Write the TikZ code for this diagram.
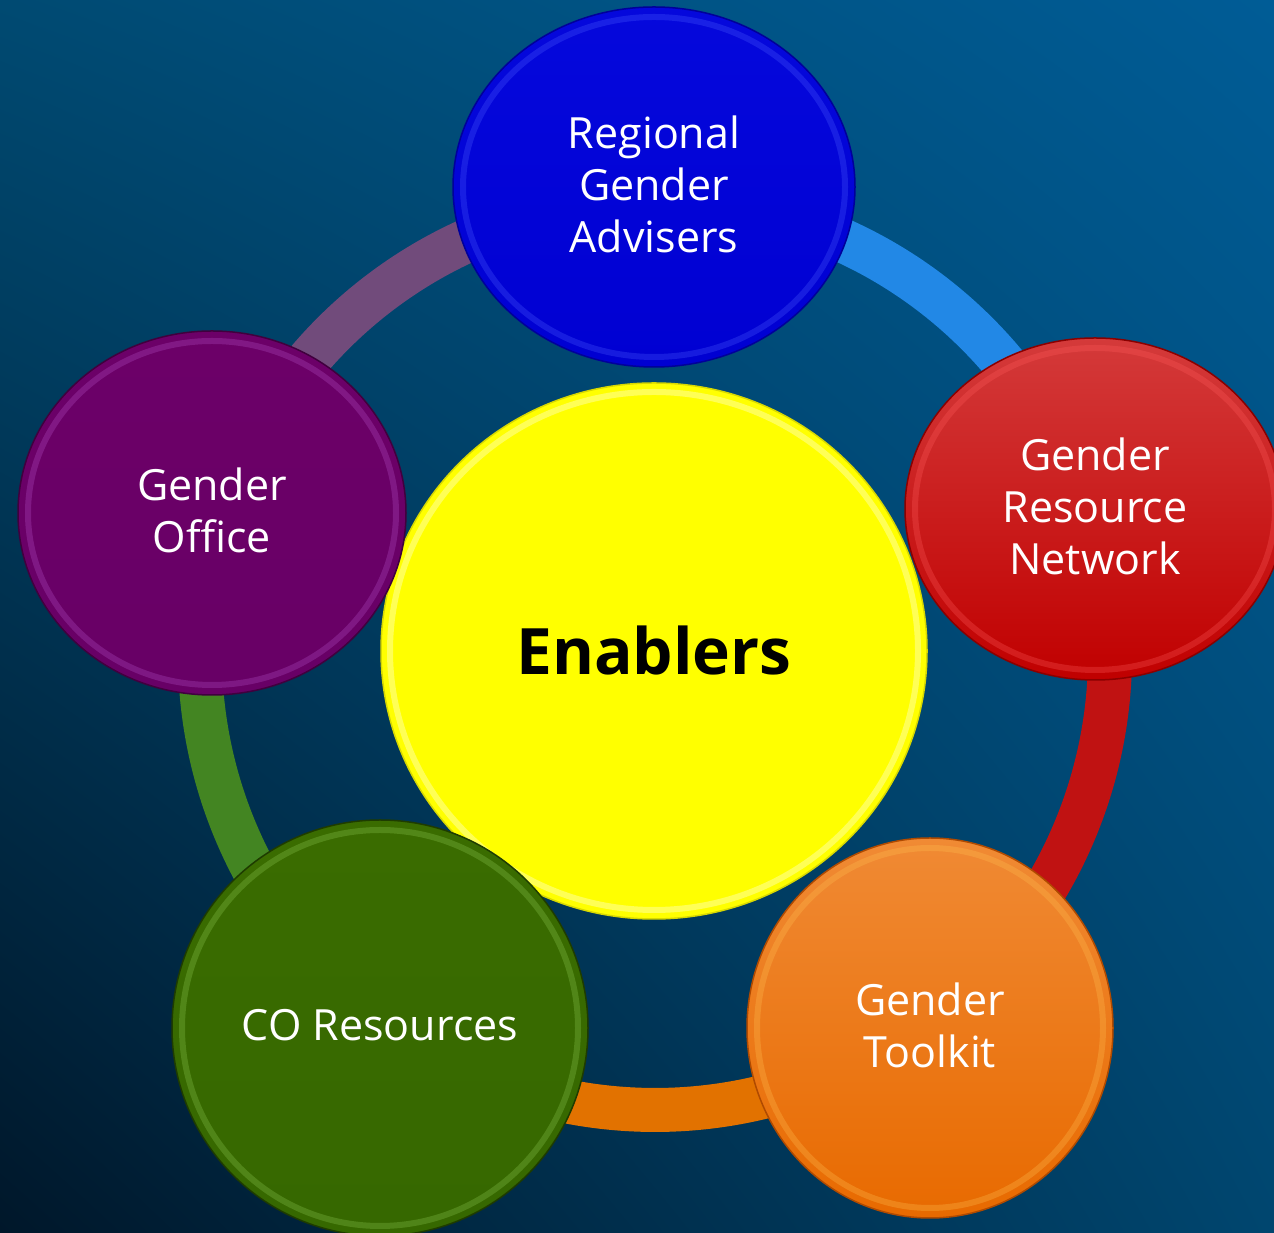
\documentclass[tikz,border=0pt]{standalone}
\usepackage{fontspec}
\setmainfont{Open Sans}
\usetikzlibrary{shapes.geometric,shadings}
\definecolor{bgUL}{HTML}{004A72}
\definecolor{bgUR}{HTML}{005C96}
\definecolor{bgLL}{HTML}{00172A}
\definecolor{bgLR}{HTML}{00466F}
\definecolor{ringBlue}{HTML}{2288E6}
\definecolor{ringRed}{HTML}{C01212}
\definecolor{ringOrange}{HTML}{E27200}
\definecolor{ringGreen}{HTML}{438522}
\definecolor{ringPurple}{HTML}{714B7B}
\definecolor{bluTop}{HTML}{0508DC}
\definecolor{bluBot}{HTML}{0000D2}
\definecolor{bluRim}{HTML}{4A5CFF}
\definecolor{bluEdge}{HTML}{00009A}
\definecolor{redTop}{HTML}{D43A3A}
\definecolor{redBot}{HTML}{C00000}
\definecolor{redRim}{HTML}{FF5A5A}
\definecolor{redEdge}{HTML}{8A0000}
\definecolor{purTop}{HTML}{6C0068}
\definecolor{purBot}{HTML}{680066}
\definecolor{purRim}{HTML}{B452C8}
\definecolor{purEdge}{HTML}{40003E}
\definecolor{grnTop}{HTML}{3A6C00}
\definecolor{grnBot}{HTML}{366800}
\definecolor{grnRim}{HTML}{8CC850}
\definecolor{grnEdge}{HTML}{1E3C00}
\definecolor{orgTop}{HTML}{F08A34}
\definecolor{orgBot}{HTML}{E86A00}
\definecolor{orgRim}{HTML}{FFBE50}
\definecolor{orgEdge}{HTML}{B04A00}
\definecolor{yelFill}{HTML}{FFFF00}
\definecolor{yelRim}{HTML}{FFFF90}
\definecolor{yelEdge}{HTML}{D8D800}
\tikzset{
  ringseg/.style={line width=44pt},
  sat/.style={ellipse, inner sep=0pt, text=white, align=center,
    font=\fontsize{43}{52}\selectfont, line width=1.5pt, text depth=6pt},
  hub/.style={ellipse, inner sep=0pt, text=black, align=center,
    font=\fontsize{64}{72}\selectfont\bfseries, line width=1.5pt},
  rim/.style={line width=6pt, opacity=0.3}
}
\begin{document}
\begin{tikzpicture}[x=1pt,y=1pt]
\useasboundingbox (0,0) rectangle (1274,1233);
\clip (0,0) rectangle (1274,1233);
\shade[upper left=bgUL, upper right=bgUR, lower left=bgLL, lower right=bgLR]
  (0,0) rectangle (1274,1233);
\coordinate (C) at (655,578);
% ring segments
\draw[ringseg, ringBlue]   ([shift={(90:455)}]C) arc[start angle=90, end angle=18.5, radius=455];
\draw[ringseg, ringRed]    ([shift={(18.5:455)}]C) arc[start angle=18.5, end angle=-53.6, radius=455];
\draw[ringseg, ringOrange] ([shift={(-53.6:455)}]C) arc[start angle=-53.6, end angle=-126.5, radius=455];
\draw[ringseg, ringGreen]  ([shift={(-126.5:455)}]C) arc[start angle=-126.5, end angle=-198, radius=455];
\draw[ringseg, ringPurple] ([shift={(162:455)}]C) arc[start angle=162, end angle=90, radius=455];
% hub
\node[hub, minimum width=546pt, minimum height=536pt, fill=yelFill, draw=yelEdge] (hub) at (654,582) {Enablers};
\draw[rim, yelRim, opacity=0.6] (hub.center) ellipse [x radius=264, y radius=259];
% satellites
\node[sat, minimum width=402pt, minimum height=360pt, top color=bluTop, bottom color=bluBot, draw=bluEdge] (rga) at (654,1046) {Regional\\Gender\\Advisers};
\draw[rim, bluRim] (rga.center) ellipse [x radius=191, y radius=170];
\node[sat, minimum width=380pt, minimum height=342pt, top color=redTop, bottom color=redBot, draw=redEdge] (grn) at (1095,724) {Gender\\Resource\\Network};
\draw[rim, redRim] (grn.center) ellipse [x radius=180, y radius=161];
\node[sat, minimum width=366pt, minimum height=380pt, top color=orgTop, bottom color=orgBot, draw=orgEdge] (gtk) at (930,205) {Gender\\Toolkit};
\draw[rim, orgRim] (gtk.center) ellipse [x radius=173, y radius=180];
\node[sat, minimum width=416pt, minimum height=416pt, top color=grnTop, bottom color=grnBot, draw=grnEdge] (cor) at (380,205) {CO Resources};
\draw[rim, grnRim] (cor.center) ellipse [x radius=198, y radius=198];
\node[sat, minimum width=388pt, minimum height=364pt, top color=purTop, bottom color=purBot, draw=purEdge] (gof) at (212,720) {Gender\\Office};
\draw[rim, purRim] (gof.center) ellipse [x radius=184, y radius=172];
\end{tikzpicture}
\end{document}
